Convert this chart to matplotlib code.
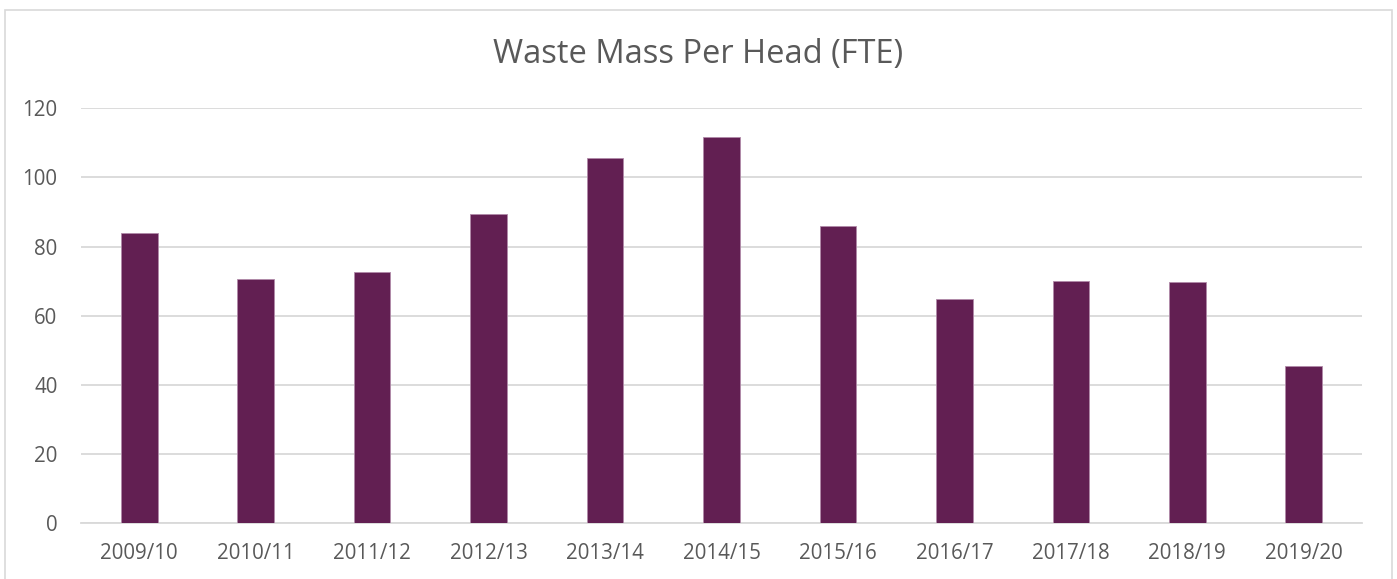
import matplotlib
matplotlib.use("Agg")
import matplotlib.pyplot as plt
from matplotlib.patches import Rectangle

categories = ["2009/10", "2010/11", "2011/12", "2012/13", "2013/14", "2014/15",
              "2015/16", "2016/17", "2017/18", "2018/19", "2019/20"]
values = [83.9, 70.6, 72.8, 89.5, 105.6, 111.8, 86.0, 64.8, 70.1, 69.9, 45.6]
yticks = [0, 20, 40, 60, 80, 100, 120]
title = "Waste Mass Per Head (FTE)"

plt.rcParams['font.family'] = ['Open Sans', 'DejaVu Sans']

W, H = 1397, 579
fig = plt.figure(figsize=(W / 100, H / 100), dpi=100)
fig.patch.set_facecolor("white")

# plot area in pixels
left, right = 81, 1362
top, bottom = 108.3, 523.3
ax = fig.add_axes([left / W, 1 - bottom / H, (right - left) / W, (bottom - top) / H])

x = list(range(len(categories)))
ax.bar(x, values, width=0.315, color="#621F52", edgecolor="#B08AA8", linewidth=0.6, zorder=3)

ax.set_xlim(-0.5, len(categories) - 0.5)
ax.set_ylim(0, 120)
ax.set_yticks(yticks)
ax.set_yticklabels([str(v) for v in yticks])
ax.set_xticks(x)
ax.set_xticklabels(categories)

ax.yaxis.grid(True, color="#D9D9D9", linewidth=1.3, zorder=0)
ax.set_axisbelow(True)
for s in ["top", "right", "left"]:
    ax.spines[s].set_visible(False)
ax.spines["bottom"].set_color("#D9D9D9")
ax.spines["bottom"].set_linewidth(1.3)
ax.tick_params(axis="both", length=0, labelsize=14.8, colors="#595959")
ax.tick_params(axis="y", pad=17)
ax.tick_params(axis="x", pad=14)

fig.text(698 / W, 1 - 54 / H, title, ha="center", va="center",
         fontsize=23.5, color="#595959")

# outer chart border
fig.patches.append(Rectangle((5 / W, -0.01), (1392 - 5) / W, 1 - 10 / H + 0.01,
                             transform=fig.transFigure, fill=False,
                             edgecolor="#D9D9D9", linewidth=1.2))

fig.savefig("out.png", dpi=100, facecolor="white")
